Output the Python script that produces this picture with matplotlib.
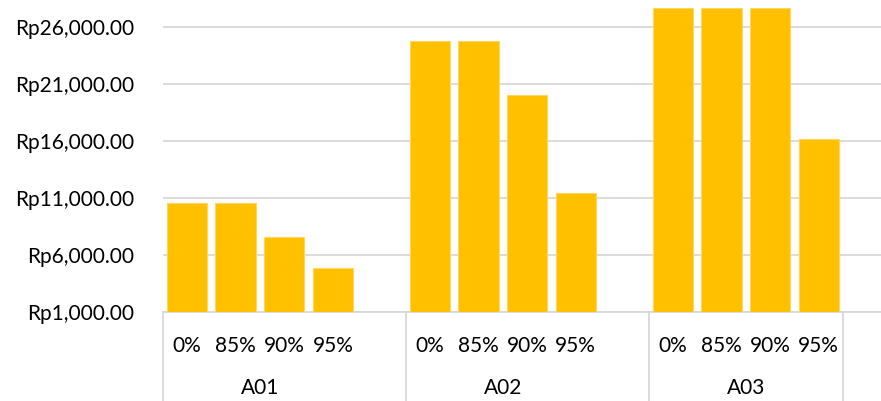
import matplotlib.pyplot as plt
from matplotlib.ticker import FuncFormatter

groups = ["A01", "A02", "A03"]
levels = ["0%", "85%", "90%", "95%"]
cost_a01 = [10550, 10550, 7550, 4850]
cost_a02 = [24700, 24700, 20050, 11450]
cost_a03 = [27600, 27600, 27600, 16150]
y_ticks = [1000, 6000, 11000, 16000, 21000, 26000]

plt.rcParams['font.family'] = ['Lato', 'DejaVu Sans']

fig = plt.figure(figsize=(8.81, 4.01), dpi=100)
ax = fig.add_axes([0.1847, 0.2212, 0.8153, 0.7588])

bar_color = "#FFC000"
grid_color = "#D9D9D9"
fs = 15

# each group takes 5 slots (4 bars + a blank), last group has no trailing blank
series = [cost_a01, cost_a02, cost_a03]
xs, heights, labels = [], [], []
for g, vals in enumerate(series):
    for i, v in enumerate(vals):
        xs.append(g * 5 + i)
        heights.append(v)
        labels.append(levels[i])

ax.bar(xs, [h - 1000 for h in heights], bottom=1000, width=0.833,
       color=bar_color, edgecolor="#FFD75E", linewidth=0.8, zorder=3)

ax.set_ylim(1000, 27630)
ax.set_xlim(-0.5, 14.28)
ax.set_yticks(y_ticks)
ax.yaxis.set_major_formatter(FuncFormatter(lambda v, p: "Rp{:,.2f}".format(v)))
ax.tick_params(axis="y", length=0, pad=20.5, labelsize=fs, labelcolor="#000000")
ax.grid(axis="y", color=grid_color, linewidth=1.3, zorder=0)
for s in ["top", "right", "left"]:
    ax.spines[s].set_visible(False)
ax.spines["bottom"].set_color(grid_color)
ax.spines["bottom"].set_linewidth(1.3)

ax.set_xticks(xs)
ax.set_xticklabels(labels)
ax.tick_params(axis="x", length=0, pad=17, labelsize=fs)

trans = ax.get_xaxis_transform()
# group labels on a second row
for g, name in enumerate(groups):
    center = g * 5 + 1.5
    ax.text(center, -0.25, name, transform=trans, ha="center", va="center",
            fontsize=fs)

# separators of the category table
for sep in [-0.5, 4.5, 9.5, 13.5]:
    ax.plot([sep, sep], [0, -0.35], transform=trans, color=grid_color,
            linewidth=1.3, clip_on=False)

fig.savefig("out.png", dpi=100)
